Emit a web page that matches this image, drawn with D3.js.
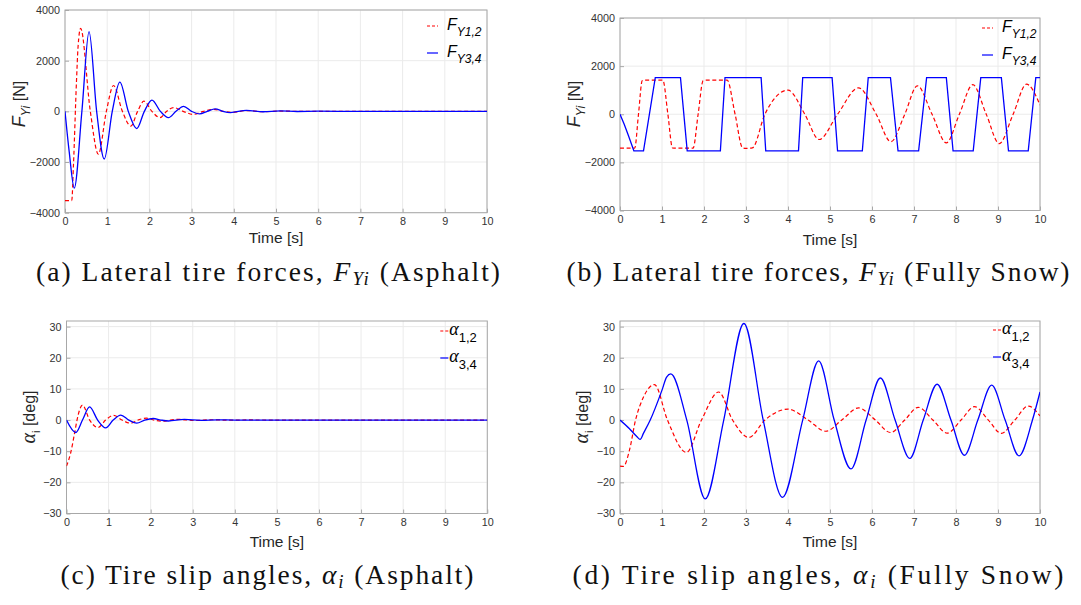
<!DOCTYPE html>
<html>
<head>
<meta charset="utf-8">
<script src="https://cdn.jsdelivr.net/npm/d3@7"></script>
<style>
  body { margin: 0; background: #fff; }
</style>
</head>
<body>
<svg id="fig" width="1081" height="605" font-family="'Liberation Sans', Arial, Helvetica, sans-serif"></svg>
<script>
// ---- shared ticks ----
const timeTicks = [0, 1, 2, 3, 4, 5, 6, 7, 8, 9, 10];
const forceTicks = [-4000, -2000, 0, 2000, 4000];
const angleTicks = [-30, -20, -10, 0, 10, 20, 30];

// ---- (a) lateral tire forces on asphalt, [time s, force N] ----
const asphaltForceFront = [
  [0, -3520], [0.16, -3520], [0.2, -2140], [0.27, 1100], [0.31, 2560], [0.37, 3280],
  [0.6, 0], [0.79, -1690], [0.98, 0], [1.15, 1020], [1.36, 0], [1.56, -580],
  [1.72, 0], [1.87, 400], [2.06, 0], [2.25, -250], [2.41, 0], [2.57, 150],
  [2.8, 0], [3.04, -120], [3.28, 0], [3.52, 80], [3.75, 0], [3.95, -40],
  [4.3, 30], [4.7, -15], [5.1, 10], [5.6, 0], [10, 0]
];
const asphaltForceRear = [
  [0, 0], [0.1, -1600], [0.22, -3030], [0.4, 0], [0.57, 3150], [0.75, 0],
  [0.93, -1880], [1.12, 0], [1.3, 1150], [1.5, 0], [1.7, -680], [1.88, 0],
  [2.06, 445], [2.26, 0], [2.45, -250], [2.63, 0], [2.81, 195], [3.0, 0],
  [3.19, -100], [3.37, 0], [3.56, 100], [3.74, 0], [3.92, -50], [4.3, 40],
  [4.7, -15], [5.1, 15], [5.5, -5], [6, 5], [7, 0], [10, 0]
];

// ---- (b) lateral tire forces on full snow ----
const snowForceFront = [
  [0, -1410], [0.35, -1410], [0.44, 0], [0.53, 1400], [0.6, 1420], [1.02, 1420],
  [1.14, 0], [1.25, -1400], [1.32, -1410], [1.74, -1410], [1.86, 0], [1.98, 1400],
  [2.05, 1420], [2.55, 1420], [2.74, 0], [2.92, -1400], [3.0, -1420], [3.15, -1400],
  [3.45, 0], [4.0, 1000], [4.4, 0], [4.74, -1050], [5.18, 0], [5.68, 1100],
  [6.1, 0], [6.45, -1140], [6.78, 0], [7.08, 1180], [7.43, 0], [7.77, -1190],
  [8.08, 0], [8.4, 1230], [8.72, 0], [9.03, -1220], [9.36, 0], [9.68, 1250], [10, 380]
];
const snowForceRear = [
  [0, 0], [0.1, -420], [0.2, -880], [0.33, -1520], [0.56, -1520], [0.84, 1520],
  [1.44, 1520], [1.6, -1520], [2.39, -1520], [2.5, 1520], [3.36, 1520], [3.47, -1520],
  [4.25, -1520], [4.35, 1520], [5.05, 1520], [5.18, -1520], [5.77, -1520], [5.91, 1520],
  [6.44, 1520], [6.62, -1520], [7.11, -1520], [7.3, 1520], [7.77, 1520], [7.93, -1520],
  [8.41, -1520], [8.59, 1520], [9.08, 1520], [9.25, -1520], [9.72, -1520], [9.9, 1520],
  [10, 1520]
];

// ---- (c) tire slip angles on asphalt, [time s, angle deg] ----
const asphaltAlphaFront = [
  [0, -14.8], [0.1, -10.5], [0.2, -3.6], [0.25, 0], [0.38, 4.8], [0.55, 0],
  [0.75, -2.4], [0.93, 0], [1.12, 1.5], [1.32, 0], [1.52, -1.0], [1.7, 0],
  [1.9, 0.6], [2.08, 0], [2.28, -0.35], [2.46, 0], [2.65, 0.25], [3.05, -0.15],
  [3.45, 0.1], [3.85, -0.05], [4.3, 0.03], [5, 0], [10, 0]
];
const asphaltAlphaRear = [
  [0, 0], [0.22, -4.0], [0.38, 0], [0.55, 4.2], [0.74, 0], [0.93, -2.5],
  [1.11, 0], [1.29, 1.6], [1.48, 0], [1.67, -1.0], [1.86, 0], [2.06, 0.5],
  [2.24, 0], [2.42, -0.3], [2.8, 0.2], [3.2, -0.1], [3.58, 0.07], [4, 0], [10, 0]
];

// ---- (d) tire slip angles on full snow ----
const snowAlphaFront = [
  [0, -14.8], [0.08, -14.9], [0.22, -10], [0.37, 0], [0.56, 7.4], [0.82, 11.4],
  [1.13, 0], [1.58, -10.4], [1.94, 0], [2.35, 9.0], [2.68, 0], [3.07, -5.6],
  [3.45, 0], [4.0, 3.5], [4.48, 0], [4.9, -3.6], [5.28, 0], [5.68, 3.9],
  [6.08, 0], [6.44, -4.0], [6.78, 0], [7.1, 4.1], [7.45, 0], [7.79, -4.2],
  [8.12, 0], [8.44, 4.3], [8.77, 0], [9.08, -4.3], [9.4, 0], [9.72, 4.5], [10, 1.3]
];
const snowAlphaRear = [
  [0, 0], [0.22, -2.7], [0.4, -5.3], [0.48, -6.2], [0.56, -4.2], [0.72, 0],
  [1.0, 9.6], [1.11, 13.8], [1.21, 14.8], [1.59, 0], [2.03, -25.3], [2.47, 0],
  [2.95, 31], [3.41, 0], [3.87, -24.8], [4.35, 0], [4.73, 19], [5.1, 0],
  [5.5, -15.7], [5.86, 0], [6.2, 13.5], [6.55, 0], [6.9, -12.3], [7.22, 0],
  [7.55, 11.5], [7.88, 0], [8.2, -11.3], [8.52, 0], [8.85, 11.2], [9.17, 0],
  [9.5, -11.5], [9.82, 0], [10, 9]
];

const svg = d3.select("#fig");
const RED = "#ff0000", BLUE = "#0000ff";
const GRID = "#ebebeb", BOX = "#a8a8a8", TICKTXT = "#333333";
const SANS = "'Liberation Sans', Arial, Helvetica, sans-serif";
const SERIF = "'Liberation Serif', 'Times New Roman', serif";

function drawPanel(p) {
  const x = d3.scaleLinear().domain([0, 10]).range([p.left, p.right]);
  const y = d3.scaleLinear().domain(p.yDomain).range([p.bottom, p.top]);
  const g = svg.append("g");
  const clipId = "clip-" + p.id;
  g.append("clipPath").attr("id", clipId).append("rect")
    .attr("x", p.left).attr("y", p.top)
    .attr("width", p.right - p.left).attr("height", p.bottom - p.top);

  // grid lines
  g.append("g").selectAll("line").data(timeTicks).join("line")
    .attr("x1", d => x(d)).attr("x2", d => x(d))
    .attr("y1", p.top).attr("y2", p.bottom)
    .attr("stroke", GRID).attr("stroke-width", 1);
  g.append("g").selectAll("line").data(p.yTicks).join("line")
    .attr("x1", p.left).attr("x2", p.right)
    .attr("y1", d => y(d)).attr("y2", d => y(d))
    .attr("stroke", GRID).attr("stroke-width", 1);

  // axes with inward ticks
  const xAxis = g.append("g").attr("transform", `translate(0,${p.bottom})`)
    .call(d3.axisBottom(x).tickValues(timeTicks).tickFormat(d3.format("d"))
      .tickSize(-4).tickPadding(5));
  const yAxis = g.append("g").attr("transform", `translate(${p.left},0)`)
    .call(d3.axisLeft(y).tickValues(p.yTicks).tickFormat(d3.format("d"))
      .tickSize(-4).tickPadding(5));
  [xAxis, yAxis].forEach(a => {
    a.attr("font-family", null).attr("font-size", null);
    a.select(".domain").remove();
    a.selectAll(".tick line").attr("stroke", BOX);
    a.selectAll(".tick text").attr("fill", TICKTXT)
      .style("font-size", "10.8px").style("font-family", SANS);
  });

  // box
  g.append("rect").attr("x", p.left).attr("y", p.top)
    .attr("width", p.right - p.left).attr("height", p.bottom - p.top)
    .attr("fill", "none").attr("stroke", BOX).attr("stroke-width", 1);

  // series
  const plot = g.append("g").attr("clip-path", `url(#${clipId})`);
  const mk = curve => d3.line().x(d => x(d[0])).y(d => y(d[1])).curve(curve);
  plot.append("path").datum(p.front).attr("d", mk(p.frontCurve || d3.curveMonotoneX))
    .attr("fill", "none").attr("stroke", RED).attr("stroke-width", 1.2)
    .attr("stroke-dasharray", "4,2.6");
  plot.append("path").datum(p.rear).attr("d", mk(p.rearCurve || d3.curveMonotoneX))
    .attr("fill", "none").attr("stroke", BLUE).attr("stroke-width", 1.3);

  // legend (no frame)
  p.legend.forEach((item, i) => {
    const ly = p.legendY + i * 27;
    const lx0 = p.right + p.legendLine[0], lx1 = p.right + p.legendLine[1];
    g.append("line").attr("x1", lx0).attr("x2", lx1).attr("y1", ly).attr("y2", ly)
      .attr("stroke", item.color).attr("stroke-width", 1.2)
      .attr("stroke-dasharray", item.dash ? "3,2" : null);
    const t = g.append("text").attr("x", lx1 + p.legendGap).attr("y", ly + 4).attr("fill", "#000")
      .style("font-family", SANS);
    if (p.kind === "force") {
      t.append("tspan").style("font-size", "16px").style("font-style", "italic").text("F");
      t.append("tspan").style("font-size", "12px").style("font-style", "italic").attr("dy", 6).text(item.sub);
    } else {
      t.append("tspan").style("font-size", "18px").style("font-style", "italic")
        .style("font-family", SERIF).text("\u03b1");
      t.append("tspan").style("font-size", "13px").attr("dy", 7).text(item.sub);
    }
  });

  // y label (rotated)
  const yl = g.append("text")
    .attr("transform", `translate(${p.yLabelX},${p.yLabelY}) rotate(-90)`)
    .attr("text-anchor", "middle").attr("fill", "#262626").style("font-family", SANS);
  if (p.kind === "force") {
    yl.append("tspan").style("font-size", "18px").style("font-style", "italic").text("F");
    yl.append("tspan").style("font-size", "12px").style("font-style", "italic").attr("dy", 5).text("Yi");
    yl.append("tspan").style("font-size", "16px").attr("dy", -5).text(" [N]");
  } else {
    yl.append("tspan").style("font-size", "20px").style("font-style", "italic")
      .style("font-family", SERIF).text("\u03b1");
    yl.append("tspan").style("font-size", "11px").attr("dy", 5).text("i");
    yl.append("tspan").style("font-size", "16px").attr("dy", -5).text(" [deg]");
  }

  // x label
  g.append("text").attr("x", (p.left + p.right) / 2).attr("y", p.xLabelY)
    .attr("text-anchor", "middle").attr("fill", "#262626")
    .style("font-size", "15.5px").style("font-family", SANS)
    .text("Time [s]");

  // caption
  const c = g.append("text").attr("x", p.capX).attr("y", p.capY)
    .attr("text-anchor", "middle").attr("fill", "#111")
    .style("font-size", "27.5px").style("font-family", SERIF)
    .attr("textLength", p.capW).attr("lengthAdjust", "spacing");
  c.append("tspan").text(p.caption[0]);
  if (p.kind === "force") {
    c.append("tspan").style("font-style", "italic").text("F");
    c.append("tspan").style("font-style", "italic").style("font-size", "19px").attr("dy", 4).text("Yi");
    c.append("tspan").attr("dy", -4).text(" " + p.caption[1]);
  } else {
    c.append("tspan").style("font-style", "italic").text("\u03b1");
    c.append("tspan").style("font-style", "italic").style("font-size", "19px").attr("dy", 4).text("i");
    c.append("tspan").attr("dy", -4).text(" " + p.caption[1]);
  }
}

const forceLegend = [
  { color: RED, dash: true, sub: "Y1,2" },
  { color: BLUE, dash: false, sub: "Y3,4" }
];
const alphaLegend = [
  { color: RED, dash: true, sub: "1,2" },
  { color: BLUE, dash: false, sub: "3,4" }
];

drawPanel({
  id: "a", kind: "force", left: 65, right: 487, top: 10, bottom: 212.7,
  yDomain: [-4000, 4000], yTicks: forceTicks,
  front: asphaltForceFront, rear: asphaltForceRear,
  legend: forceLegend, legendY: 26, legendLine: [-60, -49], legendGap: 9,
  yLabelX: 25, yLabelY: 104, xLabelY: 243,
  caption: ["(a) Lateral tire forces, ", "(Asphalt)"], capX: 268, capY: 281, capW: 464
});
drawPanel({
  id: "b", kind: "force", left: 620, right: 1040, top: 18, bottom: 210.5,
  yDomain: [-4000, 4000], yTicks: forceTicks,
  front: snowForceFront, rear: snowForceRear, rearCurve: d3.curveLinear,
  legend: forceLegend, legendY: 28, legendLine: [-58, -47], legendGap: 9,
  yLabelX: 580, yLabelY: 104, xLabelY: 245,
  caption: ["(b) Lateral tire forces, ", "(Fully Snow)"], capX: 818, capY: 281, capW: 503
});
drawPanel({
  id: "c", kind: "alpha", left: 66.5, right: 487.3, top: 321, bottom: 513.5,
  yDomain: [-30, 31.8], yTicks: angleTicks,
  front: asphaltAlphaFront, rear: asphaltAlphaRear,
  legend: alphaLegend, legendY: 331, legendLine: [-47, -39], legendGap: 1,
  yLabelX: 35, yLabelY: 417, xLabelY: 547,
  caption: ["(c) Tire slip angles, ", "(Asphalt)"], capX: 267, capY: 584, capW: 413
});
drawPanel({
  id: "d", kind: "alpha", left: 620, right: 1040, top: 321, bottom: 513.5,
  yDomain: [-30, 31.8], yTicks: angleTicks,
  front: snowAlphaFront, rear: snowAlphaRear,
  legend: alphaLegend, legendY: 330, legendLine: [-47, -39], legendGap: 1,
  yLabelX: 588, yLabelY: 417, xLabelY: 547,
  caption: ["(d) Tire slip angles, ", "(Fully Snow)"], capX: 818, capY: 584, capW: 491
});
</script>
</body>
</html>
